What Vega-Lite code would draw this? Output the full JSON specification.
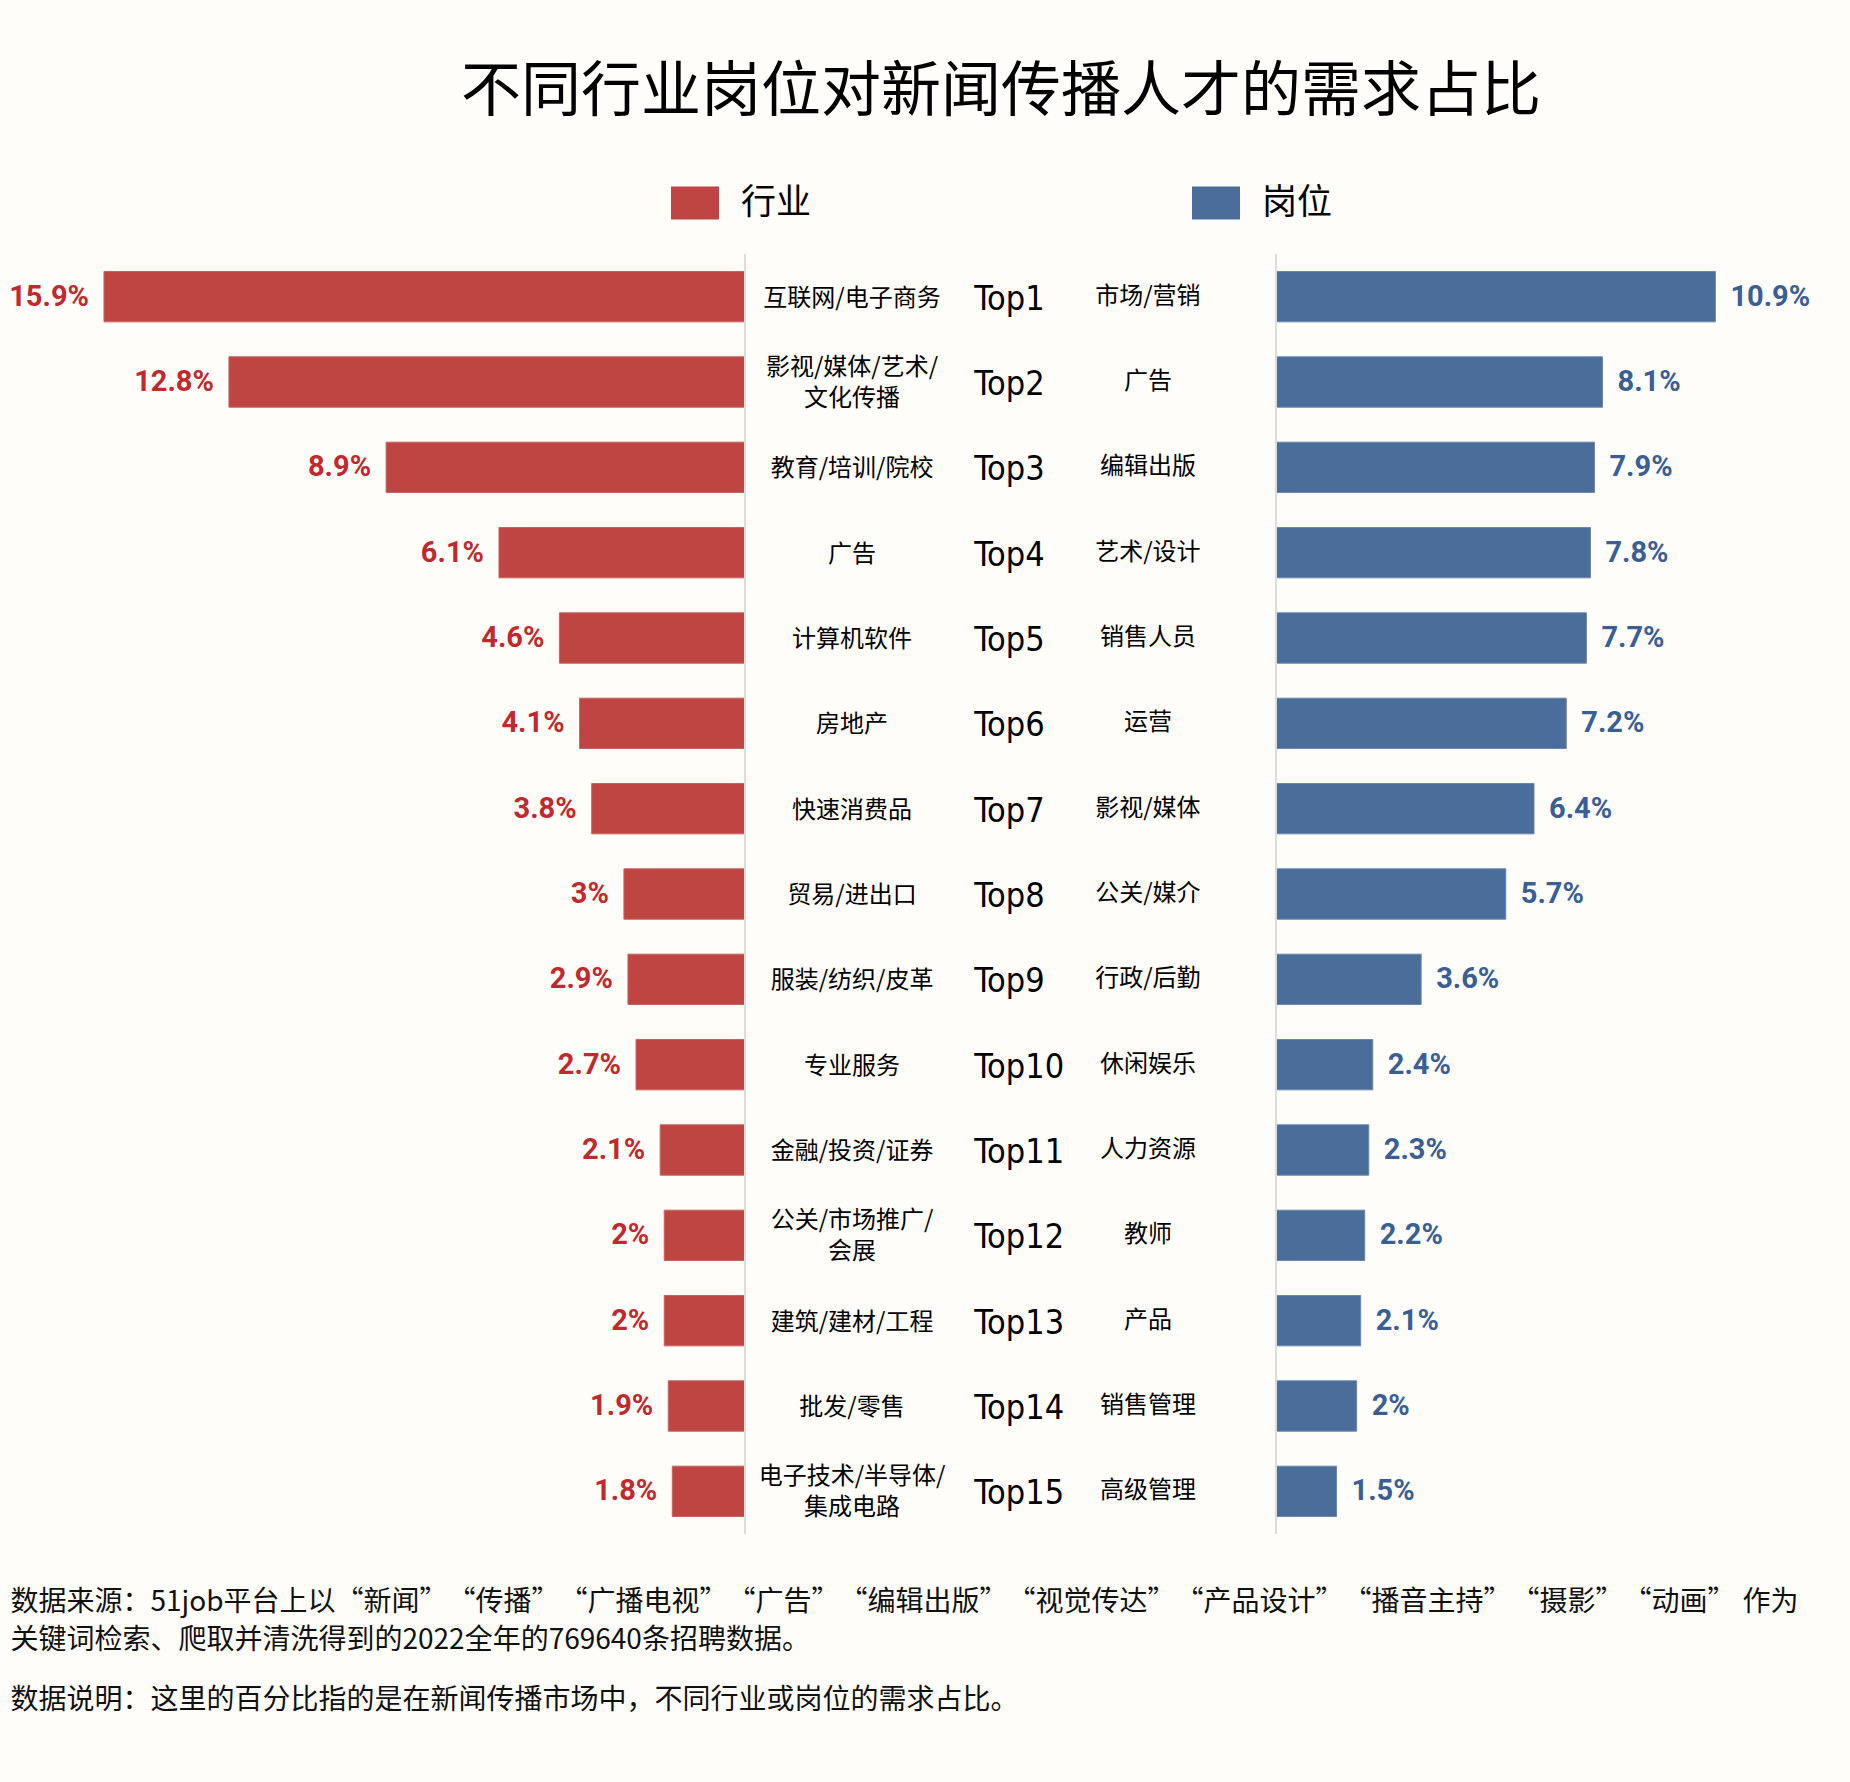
{
  "$schema": "https://vega.github.io/schema/vega-lite/v6.json",
  "autosize": "none",
  "width": 1850,
  "height": 1280,
  "padding": {"top": 254, "left": 0, "right": 0, "bottom": 248},
  "background": "#fffdfa",
  "config": {"view": {"stroke": null}},
  "title": {
    "text": "不同行业岗位对新闻传播人才的需求占比",
    "font": "Noto Sans CJK SC",
    "fontSize": 60,
    "fontWeight": "normal",
    "color": "#000000",
    "anchor": "middle",
    "dx": 76,
    "offset": 55
  },
  "data": {
    "values": [
      {"rank": 1, "top": "Top1", "industry": "互联网/电子商务", "ind": 0.159, "position": "市场/营销", "pos": 0.109},
      {"rank": 2, "top": "Top2", "industry": "影视/媒体/艺术/\n文化传播", "ind": 0.128, "position": "广告", "pos": 0.081},
      {"rank": 3, "top": "Top3", "industry": "教育/培训/院校", "ind": 0.089, "position": "编辑出版", "pos": 0.079},
      {"rank": 4, "top": "Top4", "industry": "广告", "ind": 0.061, "position": "艺术/设计", "pos": 0.078},
      {"rank": 5, "top": "Top5", "industry": "计算机软件", "ind": 0.046, "position": "销售人员", "pos": 0.077},
      {"rank": 6, "top": "Top6", "industry": "房地产", "ind": 0.041, "position": "运营", "pos": 0.072},
      {"rank": 7, "top": "Top7", "industry": "快速消费品", "ind": 0.038, "position": "影视/媒体", "pos": 0.064},
      {"rank": 8, "top": "Top8", "industry": "贸易/进出口", "ind": 0.03, "position": "公关/媒介", "pos": 0.057},
      {"rank": 9, "top": "Top9", "industry": "服装/纺织/皮革", "ind": 0.029, "position": "行政/后勤", "pos": 0.036},
      {"rank": 10, "top": "Top10", "industry": "专业服务", "ind": 0.027, "position": "休闲娱乐", "pos": 0.024},
      {"rank": 11, "top": "Top11", "industry": "金融/投资/证券", "ind": 0.021, "position": "人力资源", "pos": 0.023},
      {"rank": 12, "top": "Top12", "industry": "公关/市场推广/\n会展", "ind": 0.02, "position": "教师", "pos": 0.022},
      {"rank": 13, "top": "Top13", "industry": "建筑/建材/工程", "ind": 0.02, "position": "产品", "pos": 0.021},
      {"rank": 14, "top": "Top14", "industry": "批发/零售", "ind": 0.019, "position": "销售管理", "pos": 0.02},
      {"rank": 15, "top": "Top15", "industry": "电子技术/半导体/\n集成电路", "ind": 0.018, "position": "高级管理", "pos": 0.015}
    ]
  },
  "encoding": {
    "y": {"field": "rank", "type": "ordinal", "axis": null, "scale": {"paddingInner": 0.41, "paddingOuter": 0.205}}
  },
  "layer": [
    {
      "encoding": {
        "x": {
          "field": "ind",
          "type": "quantitative",
          "scale": {"domain": [-0.2742, 0.1848], "reverse": true, "nice": false, "zero": false},
          "axis": {
            "orient": "bottom",
            "labels": false, "ticks": false, "domain": false, "grid": false,
            "title": ["数据来源：51job平台上以“新闻”\u200b“传播”\u200b“广播电视”\u200b“广告”\u200b“编辑出版”\u200b“视觉传达”\u200b“产品设计”\u200b“播音主持”\u200b“摄影”\u200b“动画”\u2005作为", "关键词检索、爬取并清洗得到的2022全年的769640条招聘数据。"],
            "titleFont": "Noto Sans CJK SC", "titleFontSize": 28, "titleFontWeight": "normal", "titleColor": "#111111",
            "titleAlign": "left", "titleAnchor": "start", "titleBaseline": "middle", "titleX": 10, "titleY": 68, "titleLineHeight": 38
          }
        }
      },
      "layer": [
        {
          "mark": {"type": "bar", "color": "#be4542", "stroke": "#c9615e", "strokeWidth": 1},
          "encoding": {
            "color": {"datum": "行业", "type": "nominal", "scale": {"domain": ["行业", "岗位"], "range": ["#be4542", "#4a6d99"]},
              "legend": {"orient": "none", "legendX": 671, "legendY": -75, "direction": "horizontal", "title": null,
                "symbolType": "M-1,-0.69H1V0.69H-1Z", "symbolSize": 2304, "symbolStrokeWidth": 0, "symbolOpacity": 1,
                "labelFont": "Noto Sans CJK SC", "labelFontSize": 35, "labelColor": "#000000", "labelOffset": 22, "columnPadding": 380}}
          }
        },
        {
          "mark": {"type": "text", "align": "right", "baseline": "middle", "dx": -15, "font": "Roboto", "fontSize": 29, "fontWeight": "bold", "color": "#c0292d"},
          "encoding": {"text": {"field": "ind", "type": "quantitative", "format": ".1~%"}}
        },
        {
          "mark": {"type": "rule", "color": "#dcdcdc", "strokeWidth": 1.5},
          "encoding": {"x": {"datum": 0}, "y": null}
        }
      ]
    },
    {
      "encoding": {
        "x": {
          "field": "pos",
          "type": "quantitative",
          "scale": {"domain": [-0.3166, 0.1424], "nice": false, "zero": false},
          "axis": {
            "orient": "bottom",
            "labels": false, "ticks": false, "domain": false, "grid": false,
            "title": "数据说明：这里的百分比指的是在新闻传播市场中，不同行业或岗位的需求占比。",
            "titleFont": "Noto Sans CJK SC", "titleFontSize": 28, "titleFontWeight": "normal", "titleColor": "#111111",
            "titleAlign": "left", "titleAnchor": "start", "titleBaseline": "middle", "titleX": 10, "titleY": 166
          }
        }
      },
      "layer": [
        {
          "mark": {"type": "bar", "color": "#4a6d99", "stroke": "#6a87ad", "strokeWidth": 1},
          "encoding": {"color": {"datum": "岗位", "type": "nominal"}}
        },
        {
          "mark": {"type": "text", "align": "left", "baseline": "middle", "dx": 15, "font": "Roboto", "fontSize": 29, "fontWeight": "bold", "color": "#3a5f94"},
          "encoding": {"text": {"field": "pos", "type": "quantitative", "format": ".1~%"}}
        },
        {
          "mark": {"type": "rule", "color": "#dcdcdc", "strokeWidth": 1.5},
          "encoding": {"x": {"datum": 0}, "y": null}
        },
        {
          "transform": [{"filter": "indexof(datum.industry, '\\n') < 0"}],
          "mark": {"type": "text", "align": "center", "baseline": "middle", "dy": 2, "font": "Noto Sans CJK SC", "fontSize": 24, "color": "#000000"},
          "encoding": {"x": {"datum": -0.1052}, "text": {"field": "industry", "type": "nominal"}}
        },
        {
          "transform": [{"filter": "indexof(datum.industry, '\\n') >= 0"}],
          "mark": {"type": "text", "align": "center", "baseline": "middle", "dy": -14, "font": "Noto Sans CJK SC", "fontSize": 24, "color": "#000000", "lineBreak": "\n", "lineHeight": 31},
          "encoding": {"x": {"datum": -0.1052}, "text": {"field": "industry", "type": "nominal"}}
        },
        {
          "mark": {"type": "text", "align": "left", "baseline": "middle", "dy": 3, "font": "DejaVu Sans Condensed", "fontSize": 34, "color": "#000000"},
          "encoding": {"x": {"datum": -0.0749}, "text": {"field": "top", "type": "nominal"}}
        },
        {
          "mark": {"type": "text", "align": "center", "baseline": "middle", "font": "Noto Sans CJK SC", "fontSize": 24, "color": "#000000"},
          "encoding": {"x": {"datum": -0.0318}, "text": {"field": "position", "type": "nominal"}}
        }
      ]
    }
  ],
  "resolve": {"scale": {"x": "independent"}, "axis": {"x": "independent"}}
}
